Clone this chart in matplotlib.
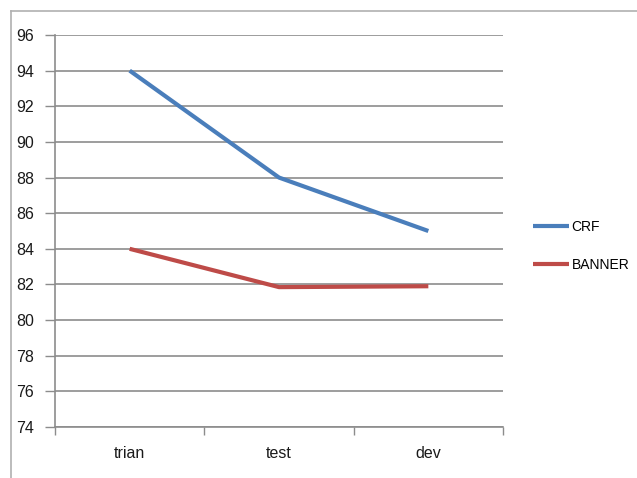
import matplotlib.pyplot as plt
from matplotlib.lines import Line2D

categories = ["trian", "test", "dev"]
crf = [94.0, 88.0, 85.0]
banner = [84.0, 81.85, 81.9]
y_ticks = list(range(74, 97, 2))

BLUE = "#4a7ebb"
RED = "#be4b48"
GRID = "#8c8c8c"

plt.rcParams["font.family"] = ["Liberation Sans", "DejaVu Sans"]

fig = plt.figure(figsize=(6.37, 4.78), dpi=100)
fig.patch.set_facecolor("white")

# outer chart frame (top and left edges visible)
fig.add_artist(Line2D([11 / 637, 11 / 637], [0, 1 - 11 / 478], color="#b0b0b0", lw=1.2))
fig.add_artist(Line2D([11 / 637, 1], [1 - 11 / 478, 1 - 11 / 478], color="#b0b0b0", lw=1.2))

ax = fig.add_axes([55 / 637, 1 - 427 / 478, (503 - 55) / 637, (427 - 35) / 478])

x = list(range(len(categories)))
ax.plot(x, crf, color=BLUE, lw=3, solid_capstyle="butt", label="CRF", zorder=3)
ax.plot(x, banner, color=RED, lw=3, solid_capstyle="butt", label="BANNER", zorder=3)

ax.set_xlim(-0.5, len(categories) - 0.5)
ax.set_ylim(74, 96)
ax.set_yticks(y_ticks)
ax.set_yticklabels([str(v) for v in y_ticks], fontsize=11.5, color="#1a1a1a")
ax.yaxis.grid(True, color=GRID, lw=1.2)
ax.set_axisbelow(True)

ax.set_xticks([i - 0.5 for i in range(len(categories) + 1)])
ax.set_xticklabels([])
ax.set_xticks(x, minor=True)
ax.set_xticklabels(categories, minor=True, fontsize=11.5, color="#1a1a1a")
ax.tick_params(axis="x", which="minor", length=0, pad=14)
ax.tick_params(axis="x", which="major", length=6, color=GRID, width=1)
ax.tick_params(axis="y", length=7, color=GRID, width=1, pad=8)

for side in ["top", "right"]:
    ax.spines[side].set_visible(False)
for side in ["left", "bottom"]:
    ax.spines[side].set_color(GRID)
    ax.spines[side].set_linewidth(1.2)

handles, labels = ax.get_legend_handles_labels()
fig.legend(handles, labels, loc="center left", bbox_to_anchor=(520 / 637, 1 - 246 / 478),
           frameon=False, fontsize=10, handlelength=2.6, handletextpad=0.2, labelspacing=1.75)

fig.savefig("out.png", dpi=100)
